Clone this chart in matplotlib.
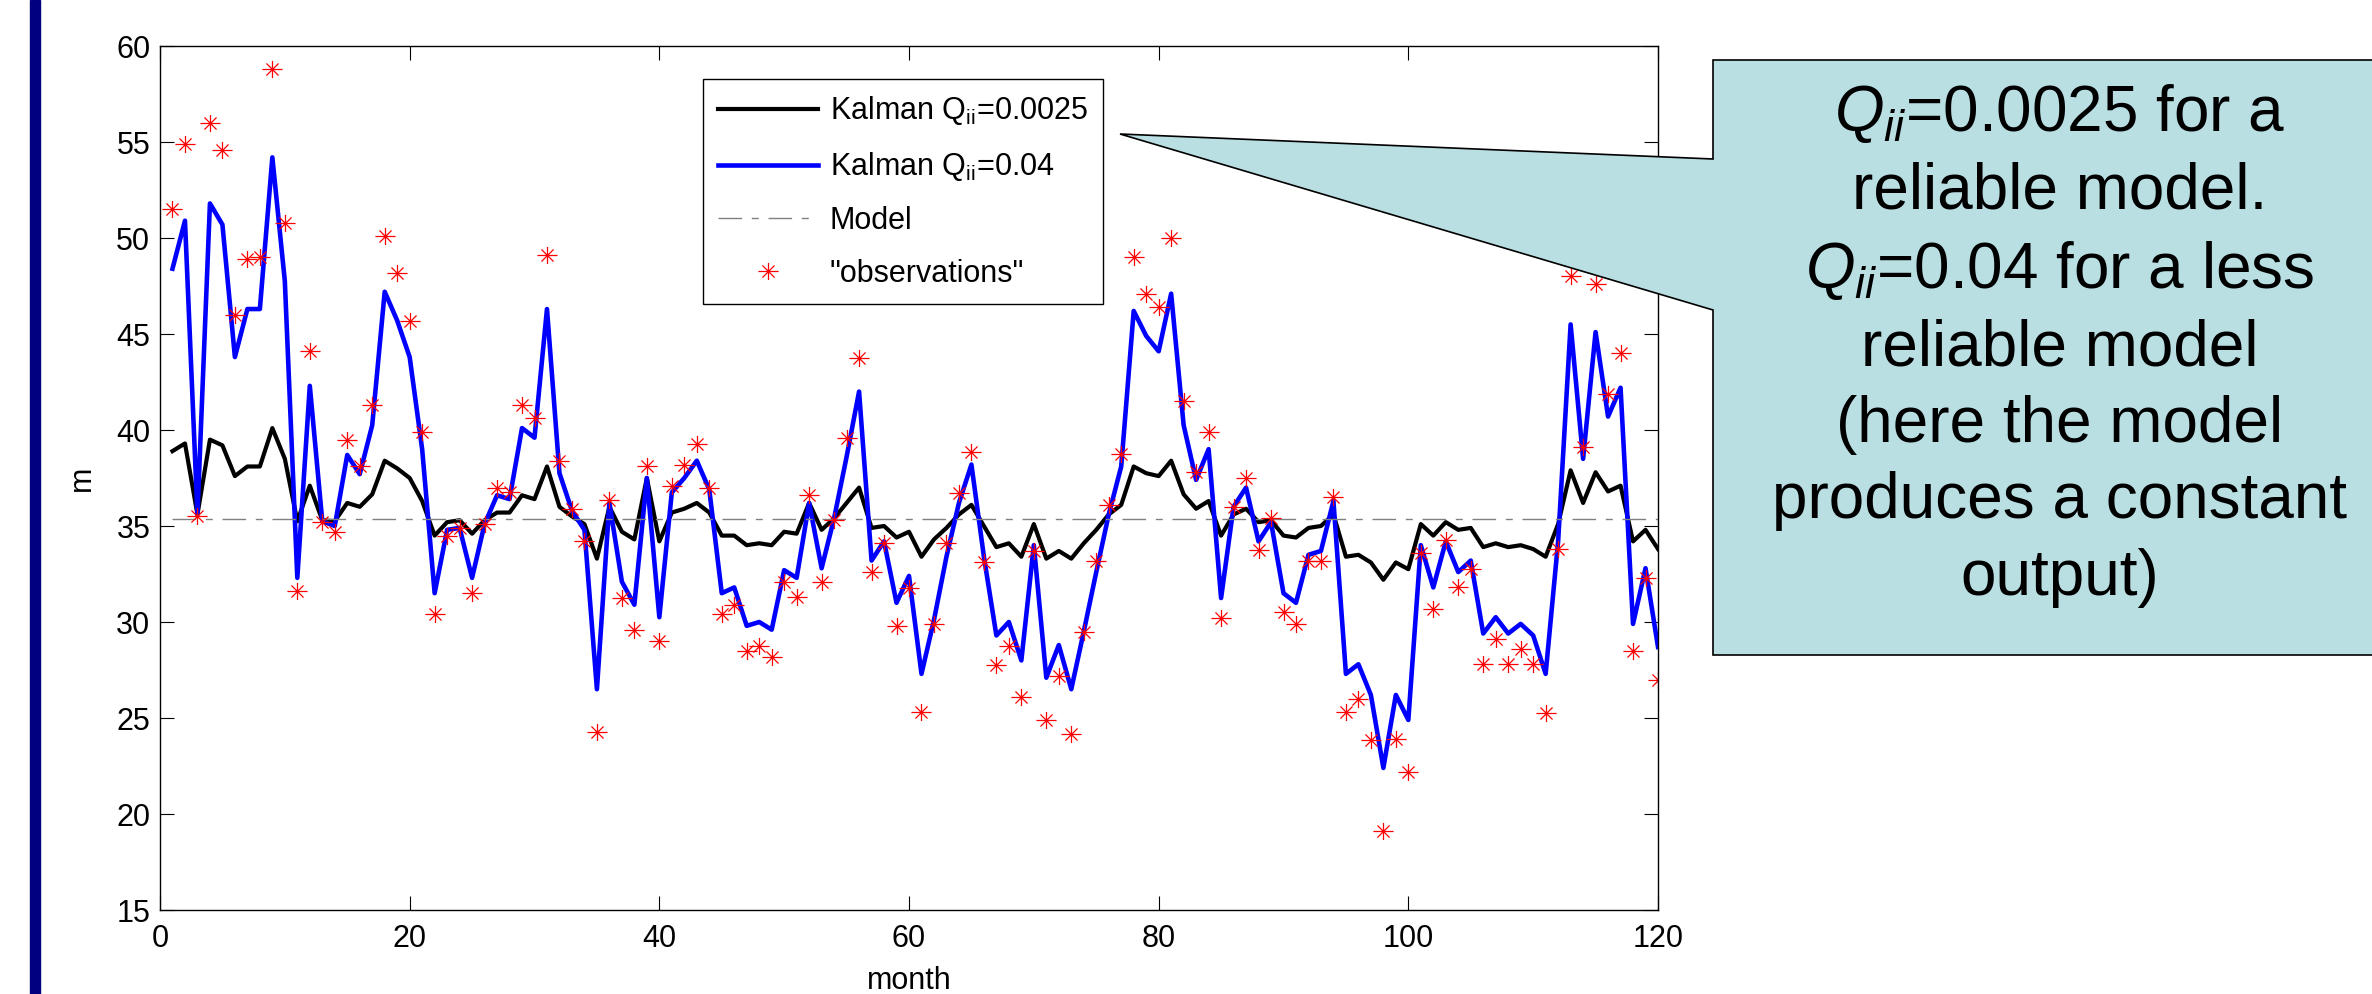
import matplotlib
matplotlib.use('Agg')
import matplotlib.pyplot as plt
import numpy as np
from matplotlib.path import Path
from matplotlib.patches import Polygon, Rectangle

# data (months 1..120)
months = np.arange(1, 121)

observations = [
    51.5, 54.9, 35.5, 56.0, 54.6, 46.0, 48.9, 49.0, 58.8, 50.8,
    31.6, 44.1, 35.2, 34.7, 39.5, 38.1, 41.3, 50.1, 48.2, 45.7,
    39.9, 30.4, 34.5, 34.9, 31.5, 35.1, 37.0, 36.75, 41.3, 40.6,
    49.1, 38.4, 35.9, 34.2, 24.25, 36.35, 31.25, 29.6, 38.1, 29.0,
    37.1, 38.2, 39.25, 37.0, 30.4, 30.9, 28.5, 28.75, 28.2, 32.1,
    31.3, 36.6, 32.1, 35.3, 39.6, 43.75, 32.6, 34.1, 29.8, 31.75,
    25.3, 29.9, 34.1, 36.7, 38.85, 33.1, 27.75, 28.75, 26.1, 33.7,
    24.9, 27.2, 24.15, 29.5, 33.2, 36.1, 38.75, 49.0, 47.1, 46.4,
    50.0, 41.5, 37.8, 39.9, 30.2, 36.0, 37.5, 33.75, 35.4, 30.5,
    29.9, 33.2, 33.2, 36.5, 25.3, 26.0, 23.85, 19.1, 23.9, 22.2,
    33.6, 30.7, 34.25, 31.8, 32.75, 27.8, 29.1, 27.8, 28.6, 27.8,
    25.25, 33.8, 48.0, 39.1, 47.6, 41.9, 44.0, 28.5, 32.3, 27.0]

kalman_q0025 = [
    38.9, 39.3, 35.6, 39.5, 39.2, 37.6, 38.1, 38.1, 40.1, 38.5,
    35.25, 37.1, 35.3, 35.25, 36.2, 36.0, 36.65, 38.4, 38.0, 37.5,
    36.3, 34.5, 35.2, 35.3, 34.6, 35.3, 35.7, 35.7, 36.6, 36.4,
    38.1, 36.0, 35.5, 35.1, 33.3, 36.0, 34.7, 34.3, 37.5, 34.2,
    35.7, 35.9, 36.2, 35.7, 34.5, 34.5, 34.0, 34.1, 34.0, 34.7,
    34.6, 36.2, 34.8, 35.4, 36.2, 37.0, 34.9, 35.0, 34.4, 34.7,
    33.4, 34.3, 34.9, 35.6, 36.1, 35.0, 33.9, 34.1, 33.4, 35.1,
    33.3, 33.7, 33.3, 34.1, 34.8, 35.6, 36.1, 38.1, 37.75, 37.6,
    38.4, 36.65, 35.9, 36.3, 34.5, 35.6, 35.9, 35.2, 35.3, 34.5,
    34.4, 34.9, 35.0, 35.6, 33.4, 33.5, 33.1, 32.2, 33.1, 32.75,
    35.1, 34.5, 35.2, 34.8, 34.9, 33.9, 34.1, 33.9, 34.0, 33.8,
    33.4, 35.1, 37.9, 36.2, 37.8, 36.8, 37.1, 34.2, 34.8, 33.8]

kalman_q04 = [
    48.4, 50.9, 35.6, 51.8, 50.7, 43.8, 46.3, 46.3, 54.2, 47.75,
    32.3, 42.3, 35.25, 35.0, 38.7, 37.7, 40.25, 47.2, 45.7, 43.8,
    39.0, 31.5, 34.8, 34.9, 32.3, 35.1, 36.6, 36.4, 40.1, 39.6,
    46.3, 37.75, 35.8, 34.8, 26.5, 36.2, 32.1, 30.9, 37.5, 30.25,
    36.75, 37.5, 38.4, 36.9, 31.5, 31.8, 29.8, 30.0, 29.6, 32.7,
    32.3, 36.2, 32.8, 35.4, 38.6, 42.0, 33.2, 34.2, 31.0, 32.4,
    27.3, 30.1, 33.4, 36.2, 38.2, 33.4, 29.3, 30.0, 28.0, 34.0,
    27.1, 28.8, 26.5, 29.5, 32.6, 35.6, 38.1, 46.2, 44.9, 44.1,
    47.1, 40.25, 37.4, 39.0, 31.25, 36.0, 37.0, 34.2, 35.2, 31.5,
    31.0, 33.5, 33.7, 36.3, 27.3, 27.8, 26.2, 22.4, 26.2, 24.9,
    34.0, 31.8, 34.2, 32.6, 33.2, 29.4, 30.25, 29.4, 29.9, 29.3,
    27.3, 34.2, 45.5, 38.5, 45.1, 40.7, 42.2, 29.9, 32.8, 28.7]

model_level = 35.35

x_ticks = [0, 20, 40, 60, 80, 100, 120]
y_ticks = [15, 20, 25, 30, 35, 40, 45, 50, 55, 60]

callout_lines = [
    r'$Q_{ii}$=0.0025 for a',
    'reliable model.',
    r'$Q_{ii}$=0.04 for a less',
    'reliable model',
    '(here the model',
    'produces a constant',
    'output)']

plt.rcParams['font.family'] = ['Liberation Sans', 'DejaVu Sans']
plt.rcParams['mathtext.fontset'] = 'custom'
plt.rcParams['mathtext.rm'] = 'Liberation Sans'
plt.rcParams['mathtext.it'] = 'Liberation Sans:italic'

W, H = 2372, 994
FS = 22


def px(x, y):
    # pixel position (from top-left) -> figure fraction
    return (x / W, 1 - y / H)


fig = plt.figure(figsize=(W / 100, H / 100), dpi=100)
ax = fig.add_axes([160 / W, 1 - 910 / H, 1498 / W, 864 / H])

# matlab style asterisk marker
star = Path([(-1, 0), (1, 0), (0, -0.85), (0, 0.85),
             (-0.6, -0.6), (0.6, 0.6), (-0.6, 0.6), (0.6, -0.6)],
            [Path.MOVETO, Path.LINETO] * 4)

ax.plot(months, kalman_q0025, color='k', lw=3.0,
        label=r'Kalman Q$_{\mathrm{ii}}$=0.0025')
ax.plot(months, kalman_q04, color='#0000ff', lw=3.3,
        label=r'Kalman Q$_{\mathrm{ii}}$=0.04')
ax.plot(months, np.full(len(months), model_level), color='#808080', lw=1.0,
        dashes=[17, 7, 5, 7], label='Model')
ax.plot(months, observations, ls='none', marker=star, ms=14.5,
        mec='red', mfc='none', mew=0.9, label='"observations"')

ax.set_xlim(0, 120)
ax.set_ylim(15, 60)
ax.set_xticks(x_ticks)
ax.set_yticks(y_ticks)
ax.tick_params(direction='in', top=True, right=True, length=10, width=0.8,
               labelsize=FS)
ax.tick_params(axis='x', pad=10)
ax.tick_params(axis='y', pad=7)
for s in ax.spines.values():
    s.set_linewidth(1.0)
ax.set_xlabel('month', fontsize=FS, labelpad=9)
ax.set_ylabel('m', fontsize=FS, labelpad=14)

leg = ax.legend(loc='upper left',
                bbox_to_anchor=((703 - 160) / 1498, 1 - (79 - 46) / 864),
                borderaxespad=0, fontsize=FS, handlelength=3.25,
                handletextpad=0.4, labelspacing=0.75, borderpad=0.5,
                fancybox=False, edgecolor='k', framealpha=1)
leg.get_frame().set_linewidth(1.0)

# callout box with pointer to the legend
pts = [px(1713, 60), px(2390, 60), px(2390, 655), px(1713, 655),
       px(1713, 310), px(1120, 134), px(1713, 159)]
fig.add_artist(Polygon(pts, closed=True, transform=fig.transFigure,
                       facecolor='#b9dfe3', edgecolor='k', lw=1.2, zorder=5))
fig.text(*px(2060, 345), '\n'.join(callout_lines), ha='center', va='center',
         fontsize=46, linespacing=1.35, zorder=6)

# navy bar on the left edge
fig.add_artist(Rectangle(px(30, 994), 10 / W, 1, transform=fig.transFigure,
                         color='#000080', zorder=5))

fig.savefig('out.png', dpi=100)
